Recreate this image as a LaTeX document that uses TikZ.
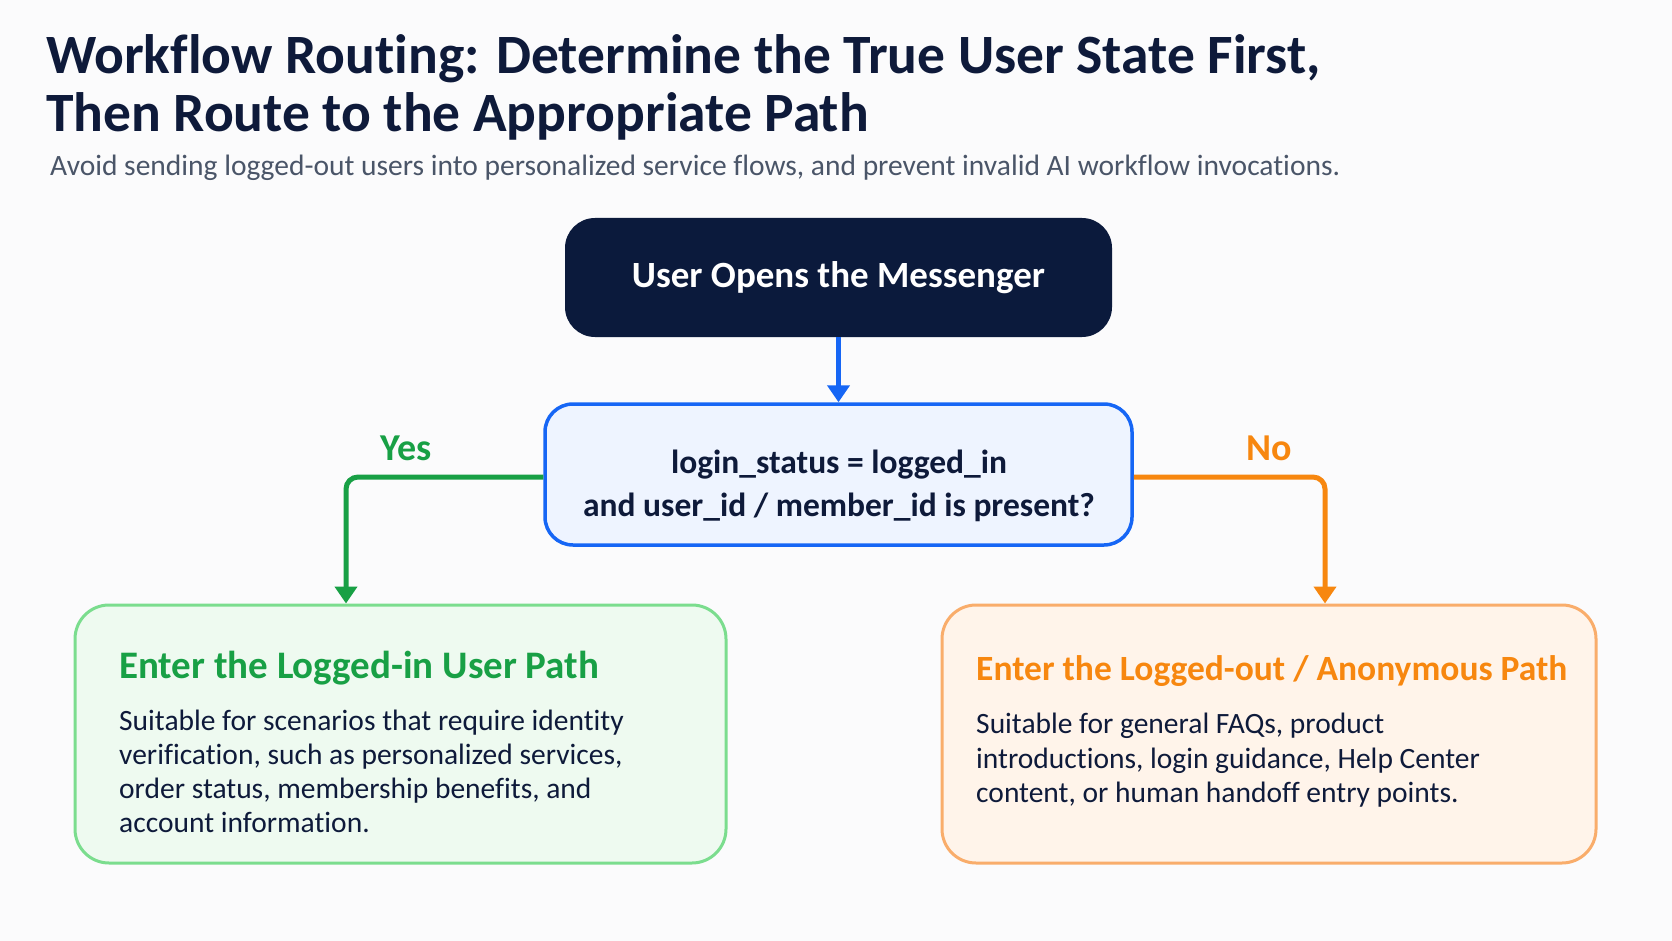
\documentclass[tikz,border=0pt]{standalone}
\usepackage{fontspec}
\setmainfont{Carlito}[Ligatures=NoCommon]
\usetikzlibrary{arrows.meta}
\definecolor{bg}{HTML}{FBFBFC}
\definecolor{ink}{HTML}{0E1A3A}
\definecolor{slate}{HTML}{4A5568}
\definecolor{navy}{HTML}{0B1A3C}
\definecolor{bblue}{HTML}{1666F5}
\definecolor{bfill}{HTML}{EEF4FF}
\definecolor{ggreen}{HTML}{18A045}
\definecolor{gfill}{HTML}{EEFAF0}
\definecolor{gline}{HTML}{7BDD8E}
\definecolor{oorange}{HTML}{F7870F}
\definecolor{ofill}{HTML}{FFF4EA}
\definecolor{oline}{HTML}{F9AD6B}
\begin{document}
\begin{tikzpicture}[x=1pt,y=-1pt,
  ttl/.style={anchor=base west,inner sep=0pt,text=ink,font=\fontsize{55.5}{60}\selectfont\bfseries},
  subttl/.style={anchor=base west,inner sep=0pt,text=slate,font=\fontsize{29.5}{34}\selectfont},
  startbox/.style={fill=navy,rounded corners=30pt,minimum width=547pt,minimum height=119pt,inner sep=0pt,text=white,font=\fontsize{37}{43}\selectfont\bfseries},
  decbox/.style={fill=bfill,draw=bblue,line width=3.5pt,rounded corners=28pt,minimum width=587pt,minimum height=141pt,inner sep=0pt},
  dectext/.style={align=center,inner sep=0pt,text=ink,font=\fontsize{33.5}{43}\selectfont\bfseries},
  pathbox/.style={line width=3pt,rounded corners=34pt,minimum height=258pt,inner sep=0pt},
  ptitle/.style={anchor=base west,inner sep=0pt,font=\fontsize{35.5}{42}\selectfont\bfseries},
  pbody/.style={anchor=base west,inner sep=0pt,text=ink,font=\fontsize{29.5}{34}\selectfont},
  lbl/.style={anchor=base,inner sep=0pt,font=\fontsize{38}{44}\selectfont\bfseries},
  conn/.style={line width=5pt,rounded corners=12pt,-{Triangle[width=22pt,length=17pt]}}
]
\useasboundingbox[fill=bg] (0,0) rectangle (1672,941);

% title
\node[ttl] (t1) at (46,74) {Workflow Routing: Determine the True User State First,};
\node[ttl] (t2) at (46,132) {Then Route to the Appropriate Path};
\node[subttl] (sub) at (50,176) {Avoid sending logged-out users into personalized service flows, and prevent invalid AI workflow invocations.};

% boxes
\node[startbox] (start) at (838.5,277.5) {User Opens the Messenger};
\node[decbox] (dec) at (838.5,474.5) {};
\node[dectext] (q) at (839,486) {login\_status = logged\_in\\and user\_id / member\_id is present?};

\node[pathbox,fill=gfill,draw=gline,minimum width=651pt] (login) at (400.5,734) {};
\node[pathbox,fill=ofill,draw=oline,minimum width=654pt] (anon) at (1269,734) {};

% connectors
\draw[conn,draw=bblue,rounded corners=0pt] (start.south) -- (dec.north);
\coordinate (yesturn) at (346,477);
\coordinate (noturn) at (1325,477);
\draw[conn,draw=ggreen] (dec.west |- yesturn) -- (yesturn) -- (yesturn |- login.north);
\draw[conn,draw=oorange] (dec.east |- noturn) -- (noturn) -- (noturn |- anon.north);
\node[lbl,text=ggreen] (yes) at (406,460) {Yes};
\node[lbl,text=oorange] (no) at (1269.5,460) {No};

% logged-in path text
\node[ptitle,text=ggreen,font=\fontsize{39}{44}\selectfont\bfseries] (gt) at (119,678) {Enter the Logged-in User Path};
\node[pbody] (g1) at (119,730) {Suitable for scenarios that require identity};
\node[pbody] (g2) at (119,764) {verification, such as personalized services,};
\node[pbody] (g3) at (119,798) {order status, membership benefits, and};
\node[pbody] (g4) at (119,832) {account information.};

% logged-out path text
\node[ptitle,text=oorange] (ot) at (976,680) {Enter the Logged-out / Anonymous Path};
\node[pbody] (o1) at (976,733) {Suitable for general FAQs, product};
\node[pbody] (o2) at (976,768) {introductions, login guidance, Help Center};
\node[pbody] (o3) at (976,802) {content, or human handoff entry points.};
\end{tikzpicture}
\end{document}
